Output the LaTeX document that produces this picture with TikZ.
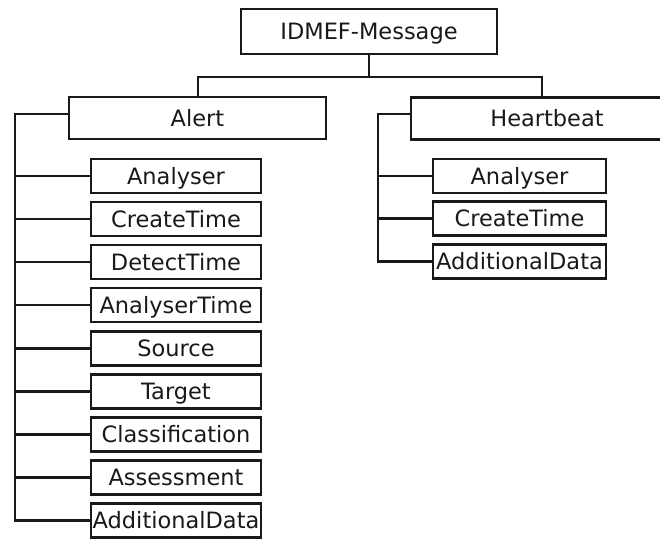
\documentclass[tikz,border=0pt]{standalone}
\usepackage{fontspec}
\setmainfont{DejaVu Sans}
\begin{document}
\begin{tikzpicture}[x=1pt,y=-1pt,
  box/.style={draw=black!90,line width=2.6pt,rectangle,inner sep=0pt,
    font=\fontsize{22.5}{27}\selectfont,text height=16.4pt,text depth=0pt,
    text=black!90,align=center},
  topbox/.style={box,minimum width=256pt,minimum height=45pt},
  midbox/.style={box,minimum height=42pt},
  leafbox/.style={box,minimum height=34pt},
  link/.style={draw=black!90,line width=2.6pt}]
\useasboundingbox (0,0) rectangle (660,539);
\node[topbox] (msg) at (369,31.5) {IDMEF-Message};
\node[midbox,minimum width=257pt] (alert) at (197.5,118) {Alert};
\node[midbox,minimum width=272pt] (heart) at (547,118.5) {Heartbeat};
% Alert children
\foreach \t [count=\i] in {Analyser,CreateTime,DetectTime,AnalyserTime,Source,Target,Classification,Assessment,AdditionalData}
  \node[leafbox,minimum width=170pt] (a\i) at (176,{176+43.06*(\i-1)}) {\t};
% Heartbeat children
\foreach \t [count=\i] in {Analyser,CreateTime,AdditionalData}
  \node[leafbox,minimum width=173pt] (h\i) at (519.5,{176+42.75*(\i-1)}) {\t};
% top connectors
\coordinate (j) at (369,77);
\coordinate (jl) at (198,77);
\coordinate (jr) at (542,77);
\draw[link] (msg.south) -- (j);
\draw[link] (jl |- alert.north) -- (jl) -- (jr) -- (jr |- heart.north);
% alert spine
\coordinate (as) at (15,114);
\draw[link] ([yshift=4pt]alert.west) -- (as) -- (as |- a9.west) -- (a9.west);
\foreach \i in {1,...,8}
  \draw[link] (as |- a\i.west) -- (a\i.west);
% heartbeat spine
\coordinate (hs) at (378,114);
\draw[link] ([yshift=4.5pt]heart.west) -- (hs) -- (hs |- h3.west) -- (h3.west);
\foreach \i in {1,2}
  \draw[link] (hs |- h\i.west) -- (h\i.west);
\end{tikzpicture}
\end{document}
